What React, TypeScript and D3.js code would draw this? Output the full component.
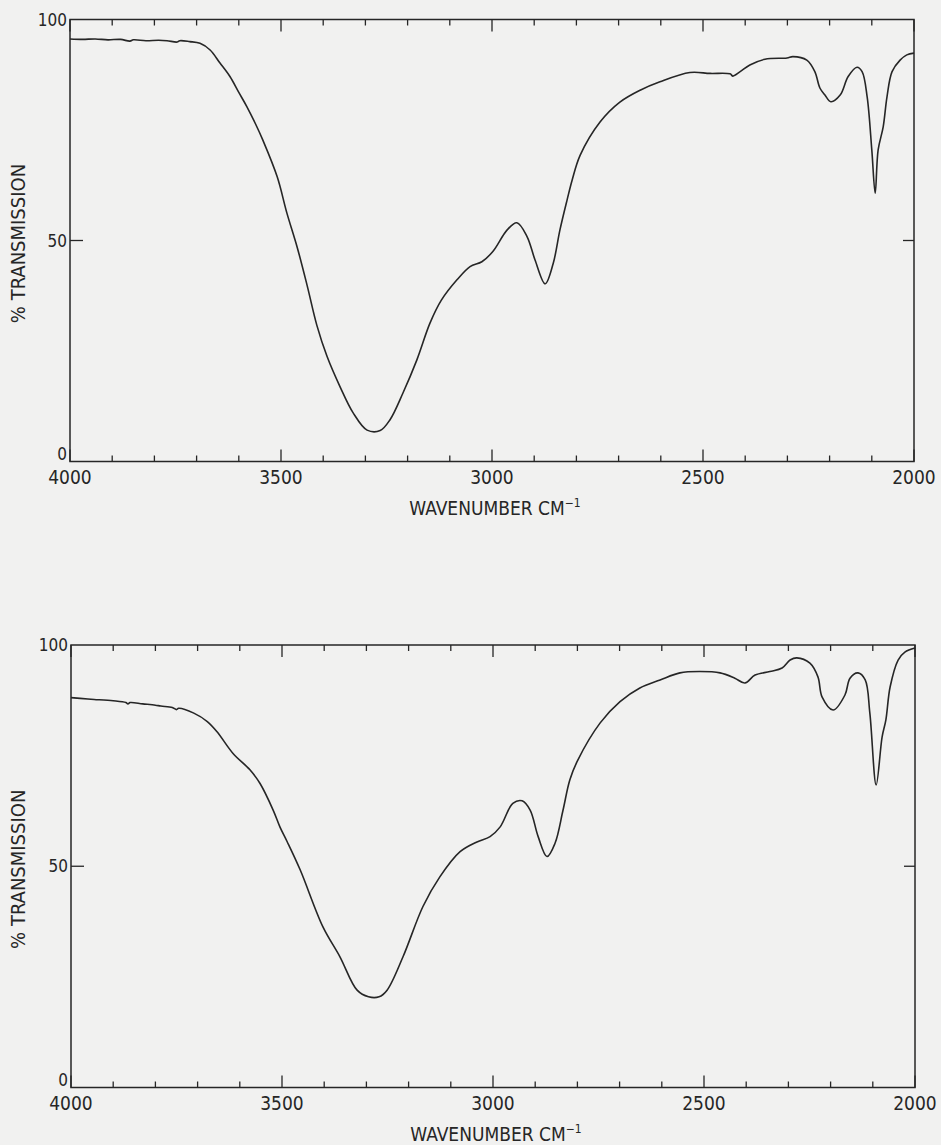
import React from "react";
import * as d3 from "d3";

// Spectrum 1 (upper panel): wavenumber (cm-1) and % transmission
const waveTop = [
  4000, 3970, 3940, 3910, 3880, 3858, 3850, 3820, 3790, 3770, 3746, 3740, 3716, 3692,
  3668, 3645, 3621, 3600, 3581, 3560, 3543, 3509, 3486, 3462, 3438, 3415, 3391, 3360,
  3329, 3296, 3265, 3242, 3211, 3178, 3147, 3120, 3083, 3052, 3024, 2998, 2964, 2941,
  2917, 2898, 2874, 2855, 2839, 2822, 2810, 2791, 2744, 2697, 2649, 2602, 2531, 2483,
  2436, 2429, 2412, 2389, 2353, 2301, 2287, 2254, 2235, 2223, 2211, 2197, 2175, 2156,
  2135, 2123, 2111, 2100, 2092, 2085, 2073, 2064, 2052, 2033, 2017, 2000,
];
const transTop = [
  95.6, 95.5, 95.6, 95.4, 95.5, 95.1, 95.4, 95.2, 95.3, 95.2, 94.9, 95.2, 95.0, 94.6,
  93.1, 90.2, 87.1, 83.5, 80.3, 76.3, 72.7, 64.4, 56.2, 48.6, 39.8, 30.8, 23.8, 16.9,
  11.0, 7.1, 7.0, 9.4, 15.5, 23.0, 31.3, 36.5, 41.1, 44.1, 45.2, 47.5, 52.4, 54.0,
  50.9, 45.6, 40.2, 44.8, 52.4, 59.2, 63.7, 69.3, 76.8, 81.3, 84.0, 85.9, 88.0, 87.8,
  87.7, 87.2, 88.2, 89.7, 91.0, 91.3, 91.6, 90.8, 88.2, 84.5, 82.9, 81.4, 82.9, 87.1,
  89.2, 88.2, 82.5, 70.5, 60.7, 70.5, 75.7, 82.5, 88.2, 90.8, 92.0, 92.4,
];

// Spectrum 2 (lower panel)
const waveBottom = [
  4000, 3960, 3945, 3900, 3870, 3865, 3860, 3830, 3800, 3787, 3760, 3750, 3745, 3709,
  3677, 3654, 3616, 3576, 3552, 3521, 3505, 3488, 3457, 3403, 3363, 3322, 3295, 3270,
  3251, 3213, 3166, 3126, 3078, 3038, 3007, 2983, 2953, 2931, 2912, 2893, 2872, 2853,
  2834, 2818, 2799, 2746, 2699, 2652, 2604, 2557, 2510, 2462, 2427, 2403, 2379, 2344,
  2315, 2296, 2280, 2249, 2230, 2220, 2194, 2166, 2154, 2135, 2118, 2107, 2092, 2078,
  2069, 2059, 2040, 2024, 2000,
];
const transBottom = [
  88.1, 87.8, 87.7, 87.4, 87.0, 86.7, 87.0, 86.7, 86.4, 86.2, 85.9, 85.4, 85.7, 84.6,
  82.7, 80.4, 75.5, 71.8, 68.7, 62.7, 58.9, 55.6, 49.2, 36.3, 29.6, 22.0, 20.5, 20.5,
  22.0, 29.6, 40.9, 47.6, 53.3, 55.5, 56.7, 58.9, 64.2, 64.8, 62.7, 56.7, 52.2, 55.2,
  62.7, 69.5, 74.0, 82.4, 87.2, 90.3, 92.1, 93.7, 94.0, 93.7, 92.5, 91.4, 93.2, 94.0,
  94.8, 96.6, 97.1, 95.9, 92.8, 88.2, 85.3, 88.7, 92.5, 93.7, 92.1, 84.6, 68.4, 79.2,
  83.1, 90.5, 96.6, 98.4, 99.3,
];

const majorTicks = [4000, 3500, 3000, 2500, 2000];
const yTickLabels = [100, 50, 0];

const FONT = "'DejaVu Sans Condensed', 'DejaVu Sans', sans-serif";
const INK = "#262626";

type PanelProps = {
  wave: number[];
  trans: number[];
  left: number;
  right: number;
  top: number;
  bottom: number;
};

function Panel({ wave, trans, left, right, top, bottom }: PanelProps) {
  const x = d3.scaleLinear().domain([4000, 2000]).range([left, right]);
  const y = d3.scaleLinear().domain([0, 100]).range([bottom, top]);
  const minor = d3.range(2100, 4000, 100).filter((v) => v % 500 !== 0);
  const pts: [number, number][] = wave.map((w, i) => [w, trans[i]]);
  const line = d3
    .line<[number, number]>()
    .x((d) => x(d[0]))
    .y((d) => y(d[1]))
    .curve(d3.curveCatmullRom.alpha(0.5));
  const midX = (left + right) / 2;
  return (
    <g>
      <rect
        x={left}
        y={top}
        width={right - left}
        height={bottom - top}
        fill="none"
        stroke={INK}
        strokeWidth={1.5}
      />
      {minor.map((v) => (
        <g key={"m" + v}>
          <line x1={x(v)} x2={x(v)} y1={bottom} y2={bottom - 6} stroke={INK} strokeWidth={1.3} />
          <line x1={x(v)} x2={x(v)} y1={top} y2={top + 6} stroke={INK} strokeWidth={1.3} />
        </g>
      ))}
      {majorTicks.map((v) => (
        <g key={"M" + v}>
          <line x1={x(v)} x2={x(v)} y1={bottom} y2={bottom - 12} stroke={INK} strokeWidth={1.3} />
          <line x1={x(v)} x2={x(v)} y1={top} y2={top + 12} stroke={INK} strokeWidth={1.3} />
          <text
            x={x(v)}
            y={bottom + 22}
            textAnchor="middle"
            fontFamily={FONT}
            fontSize={19}
            fill={INK}
          >
            {v}
          </text>
        </g>
      ))}
      <line x1={left} x2={left + 13} y1={y(50)} y2={y(50)} stroke={INK} strokeWidth={1.3} />
      <line x1={right} x2={right - 11} y1={y(50)} y2={y(50)} stroke={INK} strokeWidth={1.3} />
      {yTickLabels.map((v) => (
        <text
          key={"y" + v}
          x={left - 3}
          y={v === 0 ? y(0) - 2 : y(v) + 6}
          textAnchor="end"
          fontFamily={FONT}
          fontSize={17}
          fill={INK}
        >
          {v}
        </text>
      ))}
      <text
        transform={`translate(25,${y(50) + 3}) rotate(-90)`}
        textAnchor="middle"
        fontFamily={FONT}
        fontSize={20}
        fill={INK}
      >
        % TRANSMISSION
      </text>
      <text
        x={midX + 3}
        y={bottom + 53}
        textAnchor="middle"
        fontFamily={FONT}
        fontSize={19}
        fill={INK}
      >
        <tspan>WAVENUMBER  CM</tspan>
        <tspan dy={-8} fontSize={12}>
          −1
        </tspan>
      </text>
      <path d={line(pts) || ""} fill="none" stroke={INK} strokeWidth={1.6} strokeLinejoin="round" />
    </g>
  );
}

export default function App() {
  return (
    <svg
      width={941}
      height={1145}
      style={{ position: "absolute", left: 0, top: 0, background: "#f1f1f0" }}
    >
      <rect x={0} y={0} width={941} height={1145} fill="#f1f1f0" />
      <Panel wave={waveTop} trans={transTop} left={70} right={914} top={19.5} bottom={461.5} />
      <Panel
        wave={waveBottom}
        trans={transBottom}
        left={71}
        right={915}
        top={645}
        bottom={1087.5}
      />
    </svg>
  );
}
